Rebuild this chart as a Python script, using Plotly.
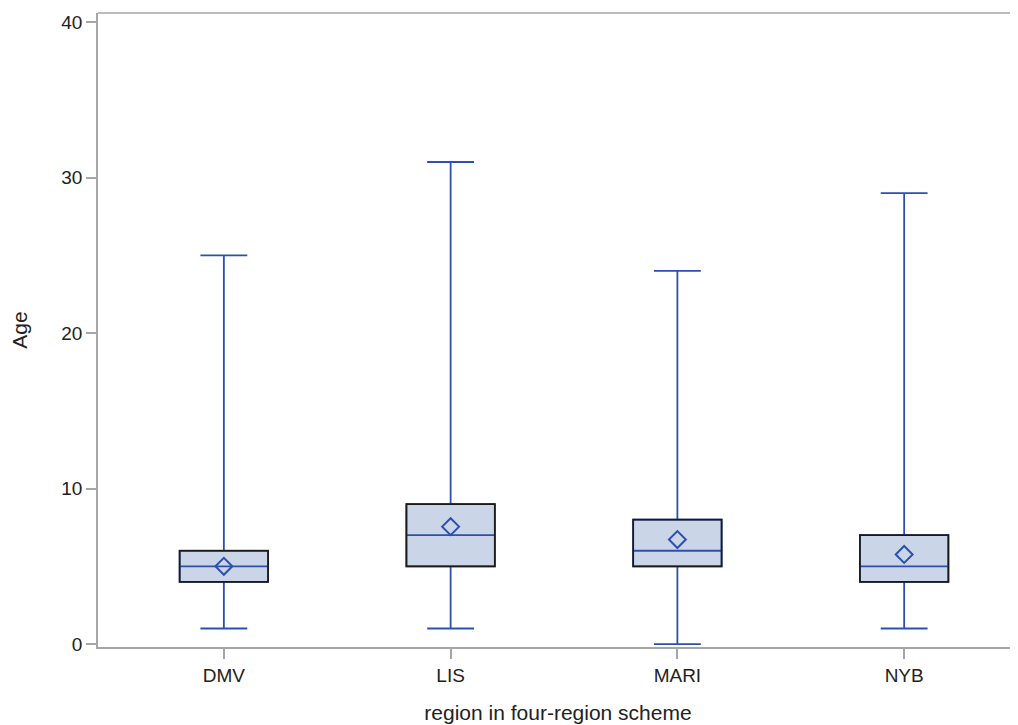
import plotly.graph_objects as go

regions = ["DMV", "LIS", "MARI", "NYB"]
q1 = [4, 5, 5, 4]
median = [5, 7, 6, 5]
q3 = [6, 9, 8, 7]
lower = [1, 1, 0, 1]
upper = [25, 31, 24, 29]
mean = [5.0, 7.55, 6.72, 5.76]

BLUE = "#2C50B0"
FILL = "#CAD6E8"
AXIS = "#A6A6A6"
BW = 0.39
pos = list(range(len(regions)))

fig = go.Figure()
fig.add_trace(go.Box(
    x=pos, q1=q1, median=median, q3=q3, lowerfence=lower, upperfence=upper,
    width=BW, whiskerwidth=0.53, fillcolor=FILL,
    line=dict(color=BLUE, width=1.8), boxpoints=False, hoverinfo="skip",
    showlegend=False))
fig.add_trace(go.Scatter(
    x=pos, y=mean, mode="markers",
    marker=dict(symbol="diamond-open", size=13, color=BLUE, line=dict(width=2, color=BLUE)),
    showlegend=False))

shapes = []
for i in pos:
    shapes.append(dict(type="rect", xref="x", yref="y", x0=i - BW / 2, x1=i + BW / 2,
                       y0=q1[i], y1=q3[i], line=dict(color="#1a1a1a", width=1.7),
                       fillcolor="rgba(0,0,0,0)", layer="above"))
shapes.append(dict(type="line", xref="paper", yref="paper", x0=0, x1=1, y0=1, y1=1,
                   line=dict(color=AXIS, width=1.5)))

FAM = "Liberation Sans, Arial, sans-serif"
tickfont = dict(family=FAM, size=19, color="#222222")
titlefont = dict(family=FAM, size=21, color="#222222")
fig.update_layout(
    width=1010, height=717,
    margin=dict(l=90, r=0, t=5, b=78),
    paper_bgcolor="white", plot_bgcolor="white",
    font=dict(family=FAM, color="#222222"), shapes=shapes,
    xaxis=dict(range=[-0.555, 3.502], tickvals=pos, ticktext=regions, tickfont=tickfont,
               showline=True, linecolor=AXIS, linewidth=1.5, showgrid=False, zeroline=False,
               ticks="outside", ticklen=10, tickcolor=AXIS, tickwidth=1.5, automargin=False,
               title=dict(text="region in four-region scheme", standoff=21, font=titlefont)),
    yaxis=dict(range=[-0.19, 40.58], tickvals=[0, 10, 20, 30, 40], tickfont=tickfont,
               showline=True, linecolor=AXIS, linewidth=1.5, showgrid=False, zeroline=False,
               ticks="outside", ticklen=10, tickcolor=AXIS, tickwidth=1.5, automargin=False,
               title=dict(text="Age", standoff=29, font=titlefont)),
)
fig.write_html("out.html")
